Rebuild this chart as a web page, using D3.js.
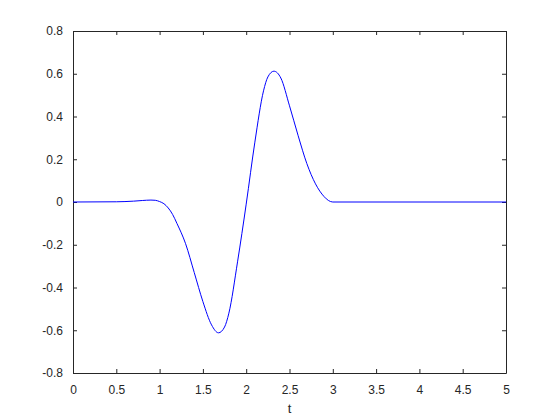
<!DOCTYPE html>
<html lang="en">
<head>
    <meta charset="UTF-8">
    <title>Wavelet pulse</title>
    <script src="https://d3js.org/d3.v7.min.js"></script>
    <style>
        body { margin: 0; background: #fff; }
        text { font-family: "Liberation Sans", Arial, sans-serif; fill: #262626; }
    </style>
</head>
<body>
    <div id="chart"></div>
    <script>
        // values
        const tValues = [0, 0.5, 0.7, 0.8, 0.9, 0.95, 1.0, 1.05, 1.1, 1.15, 1.2, 1.3, 1.4, 1.5, 1.6, 1.68, 1.75, 1.8, 1.9,
            2.0, 2.1, 2.2, 2.25, 2.32, 2.4, 2.5, 2.6, 2.7, 2.8, 2.9, 2.95, 3.0, 5.0];
        const yValues = [0, 0.001, 0.004, 0.007, 0.009, 0.008, 0.002, -0.008, -0.028, -0.058, -0.10, -0.195, -0.33, -0.466, -0.575, -0.612, -0.585, -0.52, -0.28,
            -0.01, 0.28, 0.52, 0.585, 0.612, 0.58, 0.45, 0.31, 0.18, 0.085, 0.025, 0.007, 0, 0];
        const xTicks = [0, 0.5, 1, 1.5, 2, 2.5, 3, 3.5, 4, 4.5, 5];
        const yTicks = [-0.8, -0.6, -0.4, -0.2, 0, 0.2, 0.4, 0.6, 0.8];

        const width = 560;
        const height = 420;
        const margin = { top: 31, right: 54, bottom: 47, left: 73 };
        const w = width - margin.left - margin.right;
        const h = height - margin.top - margin.bottom;

        const svg = d3.select('#chart').append('svg')
            .attr('width', width)
            .attr('height', height);

        const g = svg.append('g')
            .attr('transform', 'translate(' + margin.left + ',' + margin.top + ')');

        const x = d3.scaleLinear().domain([0, 5]).range([0, w]);
        const y = d3.scaleLinear().domain([-0.8, 0.8]).range([h, 0]);

        const fmt = d => d === 0 ? '0' : String(d);

        // bottom axis with labels
        g.append('g')
            .attr('transform', 'translate(0,' + h + ')')
            .call(d3.axisBottom(x).tickValues(xTicks).tickFormat(fmt).tickSizeInner(-4).tickSizeOuter(0).tickPadding(12));

        // top axis, ticks only
        g.append('g')
            .call(d3.axisTop(x).tickValues(xTicks).tickFormat('').tickSizeInner(-4).tickSizeOuter(0));

        // left axis with labels
        g.append('g')
            .call(d3.axisLeft(y).tickValues(yTicks).tickFormat(fmt).tickSizeInner(-4).tickSizeOuter(0).tickPadding(10));

        // right axis, ticks only
        g.append('g')
            .attr('transform', 'translate(' + w + ',0)')
            .call(d3.axisRight(y).tickValues(yTicks).tickFormat('').tickSizeInner(-4).tickSizeOuter(0));

        g.selectAll('.domain').attr('stroke', '#262626');
        g.selectAll('.tick line').attr('stroke', '#262626');
        g.selectAll('.tick text')
            .attr('font-size', 12)
            .attr('font-family', '"Liberation Sans", Arial, sans-serif')
            .attr('fill', '#262626');

        // x label
        g.append('text')
            .attr('x', x(2.5))
            .attr('y', h + 40)
            .attr('text-anchor', 'middle')
            .attr('font-size', 13)
            .text('t');

        const data = tValues.map((t, i) => ({ t: t, v: yValues[i] }));

        const line = d3.line()
            .x(d => x(d.t))
            .y(d => y(d.v))
            .curve(d3.curveMonotoneX);

        g.append('path')
            .datum(data)
            .attr('fill', 'none')
            .attr('stroke', '#0000ff')
            .attr('stroke-width', 1)
            .attr('d', line);
    </script>
</body>
</html>
